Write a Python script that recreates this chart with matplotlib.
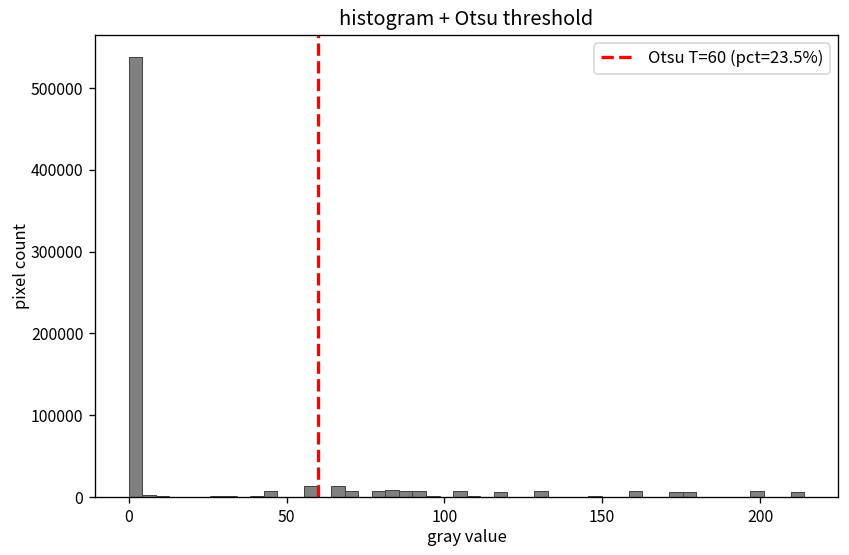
import numpy as np
import matplotlib
matplotlib.use("Agg")
import matplotlib.pyplot as plt

# ---- data ----
gray_min = 0
gray_max = 214
n_bins = 50
bin_counts = [538000, 2000, 700, 0, 600, 600, 700, 700, 600, 700,
              7700, 0, 0, 13900, 0, 13900, 7700, 0, 7700, 9000,
              7700, 7700, 900, 500, 7700, 800, 0, 6500, 0, 0,
              7700, 0, 0, 0, 900, 0, 0, 7700, 0, 0,
              6500, 6500, 0, 0, 0, 0, 7700, 0, 0, 6500]
otsu_T = 60
otsu_pct = 23.5
title = "histogram + Otsu threshold"
xlabel = "gray value"
ylabel = "pixel count"

cjk = ["Noto Sans CJK SC", "DejaVu Sans"]
plt.rcParams['font.family'] = cjk

edges = np.linspace(gray_min, gray_max, n_bins + 1)
centers = (edges[:-1] + edges[1:]) / 2

fig = plt.figure(figsize=(849 / 120, 555 / 120), dpi=120)
ax = fig.add_axes([0.112, 0.1045, 0.875, 0.8325])
ax.hist(centers, bins=edges, weights=bin_counts, color="gray", edgecolor="#444444", linewidth=0.6)
ax.axvline(otsu_T, color="red", linestyle="--", linewidth=2,
           label=f"Otsu T={otsu_T} (pct={otsu_pct}%)")
ax.set_title(title, fontsize=12, pad=6)
ax.set_xlabel(xlabel, fontsize=10, labelpad=2)
ax.set_ylabel(ylabel, fontsize=10, labelpad=0.5)
ax.tick_params(labelsize=9.5)
ax.legend(loc="upper right", prop={"size": 10})
fig.savefig("out.png", dpi=120)
